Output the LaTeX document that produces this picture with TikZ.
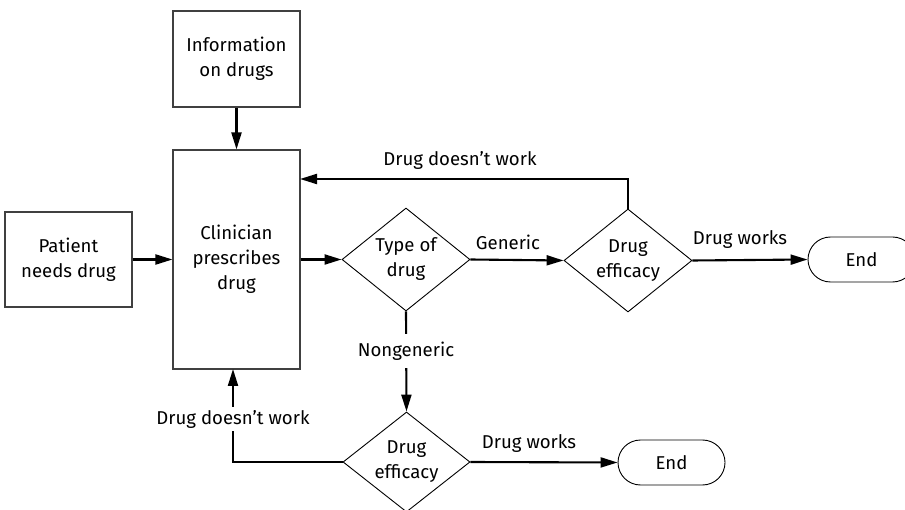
\documentclass[tikz,border=0pt]{standalone}
\usepackage{fontspec}
\setmainfont{Fira Sans}
\usetikzlibrary{arrows.meta,shapes.geometric,shapes.misc}
\begin{document}
\begin{tikzpicture}[x=1pt,y=-1pt,
  every node/.style={font=\fontsize{18.6}{25}\selectfont},
  box/.style={draw=black!75, line width=1.1pt, align=center, inner sep=0pt, minimum width=127pt},
  decision/.style={draw=black, line width=0.9pt, shape=diamond, align=center, inner sep=0pt, aspect=1.24},
  term/.style={draw=black, line width=0.9pt, rounded rectangle, align=center, inner sep=0pt, minimum width=107pt, minimum height=45pt},
  conn/.style={line width=2.1pt, -{Triangle[length=17pt,width=10pt]}},
  lbl/.style={inner sep=1pt},
  gaplbl/.style={fill=white, inner xsep=1pt, inner ysep=8pt},
  gaplbltight/.style={fill=white, inner xsep=1pt, inner ysep=3.5pt}
]
\useasboundingbox (0,0) rectangle (905,510);

\node[box, minimum height=96pt] (info) at (236.5,59) {Information\\on drugs};
\node[box, minimum height=219pt] (clin) at (236.5,259.5) {Clinician\\prescribes\\drug};
\node[box, minimum height=95pt] (pat) at (68.5,259.5) {Patient\\needs drug};
\node[decision, minimum width=128pt, minimum height=103pt] (type) at (406,259.5) {Type of\\drug};
\node[decision, minimum width=128pt, minimum height=103pt] (eff1) at (628,260.5) {Drug\\efficacy};
\node[decision, minimum width=127pt, minimum height=100pt] (eff2) at (406.5,462) {Drug\\efficacy};
\node[term] (end1) at (861.5,259.5) {End};
\node[term] (end2) at (671.5,462.5) {End};

\coordinate (fb1) at (300,179);
\coordinate (fb2) at (233,369);

\draw[conn] (info.south) -- (clin.north);
\draw[conn] (pat.east) -- (clin.west);
\draw[conn] (clin.east) -- (type.west);
\draw[conn] (type.east) -- (eff1.west);
\draw[conn] (eff1.east) -- (end1.west);
\draw[conn] (eff1.north) |- (fb1);
\draw[conn] (type.south) -- (eff2.north);
\draw[conn] (eff2.east) -- (end2.west);
\draw[conn] (eff2.west) -| (fb2);

\node[lbl] (lgen) at (508,242) {Generic};
\node[lbl] (lw1) at (740,240) {Drug works};
\node[lbl] (ldw1) at (460,160) {Drug doesn’t work};
\node[gaplbl] (lng) at (406,351) {Nongeneric};
\node[lbl] (lw2) at (529,444) {Drug works};
\node[gaplbltight] (ldw2) at (233,419) {Drug doesn’t work};
\end{tikzpicture}
\end{document}
